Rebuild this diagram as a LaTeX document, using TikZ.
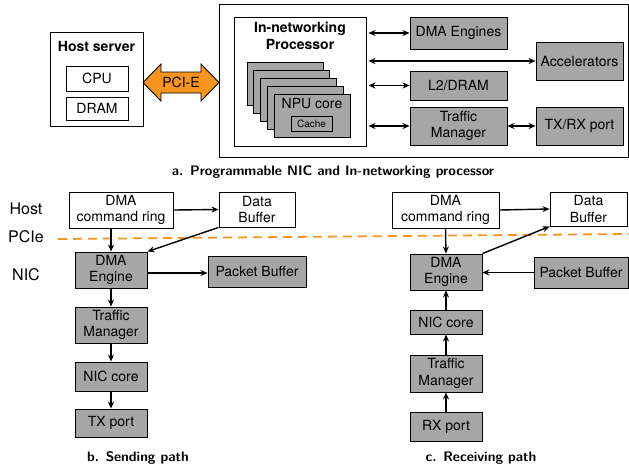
\documentclass[tikz,border=0pt]{standalone}
\usepackage{fontspec}
\setmainfont{TeX Gyre Heros}
\usepackage{xcolor}
\usetikzlibrary{arrows.meta,positioning}

\definecolor{pciorange}{RGB}{247,148,30}
\definecolor{boxgrey}{RGB}{166,166,166}

\tikzset{
  plainbox/.style={draw=black,fill=white,line width=0.9pt,inner sep=0pt,align=center,
    font=\fontsize{14}{16.5}\selectfont},
  greybox/.style={plainbox,fill=boxgrey},
  capt/.style={font=\sffamily\bfseries\fontsize{13.8}{16}\selectfont},
  sidelabel/.style={font=\fontsize{16}{19}\selectfont},
  tip/.style={-{Stealth[length=7pt,width=6pt]}},
  dtip/.style={{Stealth[length=7pt,width=6pt]}-{Stealth[length=7pt,width=6pt]}},
}

\begin{document}
\begin{tikzpicture}[x=1pt,y=-1pt]
  \useasboundingbox (0,0) rectangle (629,472);

  % a. NIC overview
  \node[plainbox, minimum width=93pt, minimum height=94pt] (host) at (96.5,79) {};
  \node[font=\bfseries\fontsize{14}{16.5}\selectfont] (hostlbl) at (96.5,46) {Host server};
  \node[plainbox, minimum width=62pt, minimum height=25pt] (cpu) at (97,78.5) {CPU};
  \node[plainbox, minimum width=62pt, minimum height=23pt] (dram) at (97,108.5) {DRAM};

  \node[plainbox, minimum width=409pt, minimum height=153pt] (nic) at (423.5,80.5) {};
  \node[plainbox, minimum width=132pt, minimum height=129pt] (proc) at (300,81.5) {};
  \node[align=center, font=\bfseries\fontsize{14}{16.5}\selectfont] (proclbl) at (300,36)
    {In-networking\\Processor};
  \foreach \k in {0,...,4}
    \node[greybox, minimum width=76pt, minimum height=43pt] (npu\k) at (285+6.75*\k,83.5+8*\k) {};
  \node[font=\fontsize{14}{16.5}\selectfont] (npulbl) at (312,103.5) {NPU core};
  \node[greybox, minimum width=41pt, minimum height=15pt, font=\fontsize{10}{12}\selectfont]
    (cache) at (311.5,123.5) {Cache};

  % PCI-E double arrow
  \filldraw[fill=pciorange, draw=black, line width=0.9pt]
    (143,82.5) -- (161,64) -- (161,72) -- (201,72) -- (201,64) -- (219,82.5)
    -- (201,101) -- (201,93) -- (161,93) -- (161,101) -- cycle;
  \node[font=\fontsize{14}{16.5}\selectfont] (pcie) at (181,82.5) {PCI-E};

  \begin{scope}[every node/.style={greybox}]
    \node[minimum width=97pt, minimum height=32pt] (dmae) at (458.5,33) {DMA Engines};
    \node[minimum width=87pt, minimum height=38pt] (acc) at (579.5,61) {Accelerators};
    \node[minimum width=97pt, minimum height=29pt] (l2) at (458.5,85.5) {L2/DRAM};
    \node[minimum width=97pt, minimum height=38pt] (tm) at (458.5,126) {Traffic\\Manager};
    \node[minimum width=87pt, minimum height=38pt] (txrx) at (579.5,126) {TX/RX port};
  \end{scope}

  \begin{scope}[every edge/.style={draw=black,line width=1.4pt,dtip}]
    \path ([xshift=2pt]proc.east |- dmae) edge (dmae.west);
    \path ([xshift=2pt]proc.east |- acc) edge (acc.west);
    \path ([xshift=2pt]proc.east |- l2) edge (l2.west);
    \path ([xshift=2pt]proc.east |- tm) edge (tm.west);
    \path (tm.east) edge (txrx.west);
  \end{scope}

  \node[capt] (capa) at (333,172) {a. Programmable NIC and In-networking processor};

  % host / pcie / nic boundary
  \node[sidelabel] (lhost) at (26,209) {Host};
  \node[sidelabel] (lpcie) at (26,237) {PCIe};
  \node[sidelabel] (lnic) at (26,275) {NIC};
  \draw[pciorange, line width=1.8pt, dash pattern=on 9pt off 6pt] (58,239) -- (629,234);

  % b. sending path
  \node[plainbox, minimum width=104pt, minimum height=36pt] (ringB) at (121,210) {DMA\\command ring};
  \node[plainbox, minimum width=76pt, minimum height=35pt] (dbufB) at (257,209.5) {Data\\Buffer};
  \begin{scope}[every node/.style={greybox, minimum width=72pt}]
    \node[minimum height=36pt] (engB) at (111,270) {DMA\\Engine};
    \node[minimum width=98pt, minimum height=31pt] (pbufB) at (257,271.5) {Packet Buffer};
    \node[minimum height=36pt] (tmB) at (111,325) {Traffic\\Manager};
    \node[minimum height=29pt] (coreB) at (111,376.5) {NIC core};
    \node[minimum height=28pt] (txB) at (111,423) {TX port};
  \end{scope}
  \begin{scope}[every edge/.style={draw=black,line width=1.4pt,tip}]
    \path (ringB.east) edge (dbufB.west);
    \path (ringB.south -| engB) edge (engB.north);
    \path (dbufB.south west) edge (engB.north east);
    \path (engB.east |- 0,273) edge (pbufB.west |- 0,273);
    \path (engB) edge (tmB);
    \path (tmB) edge (coreB);
    \path (coreB) edge (txB);
  \end{scope}
  \node[capt] (capb) at (138,458) {b. Sending path};

  % c. receiving path
  \node[plainbox, minimum width=107pt, minimum height=36pt] (ringC) at (445.5,210) {DMA\\command ring};
  \node[plainbox, minimum width=77pt, minimum height=34pt] (dbufC) at (588.5,209) {Data\\Buffer};
  \begin{scope}[every node/.style={greybox, minimum width=72pt}]
    \node[minimum height=36pt] (engC) at (446,272) {DMA\\Engine};
    \node[minimum width=94pt, minimum height=31pt] (pbufC) at (581,272.5) {Packet Buffer};
    \node[minimum height=24pt] (coreC) at (446,322) {NIC core};
    \node[minimum height=37pt] (tmC) at (446,373.5) {Traffic\\Manager};
    \node[minimum height=29pt] (rxC) at (446,426.5) {RX port};
  \end{scope}
  \begin{scope}[every edge/.style={draw=black,line width=1.4pt,tip}]
    \path (ringC.east) edge (dbufC.west);
    \path (ringC.south) edge (engC.north);
    \path (engC.north east) edge (dbufC.south west);
    \path (pbufC.west) edge (engC.east |- pbufC.west);
    \path (coreC) edge (engC);
    \path (tmC) edge (coreC);
    \path (rxC) edge (tmC);
  \end{scope}
  \node[capt] (capc) at (481,458) {c. Receiving path};
\end{tikzpicture}
\end{document}
